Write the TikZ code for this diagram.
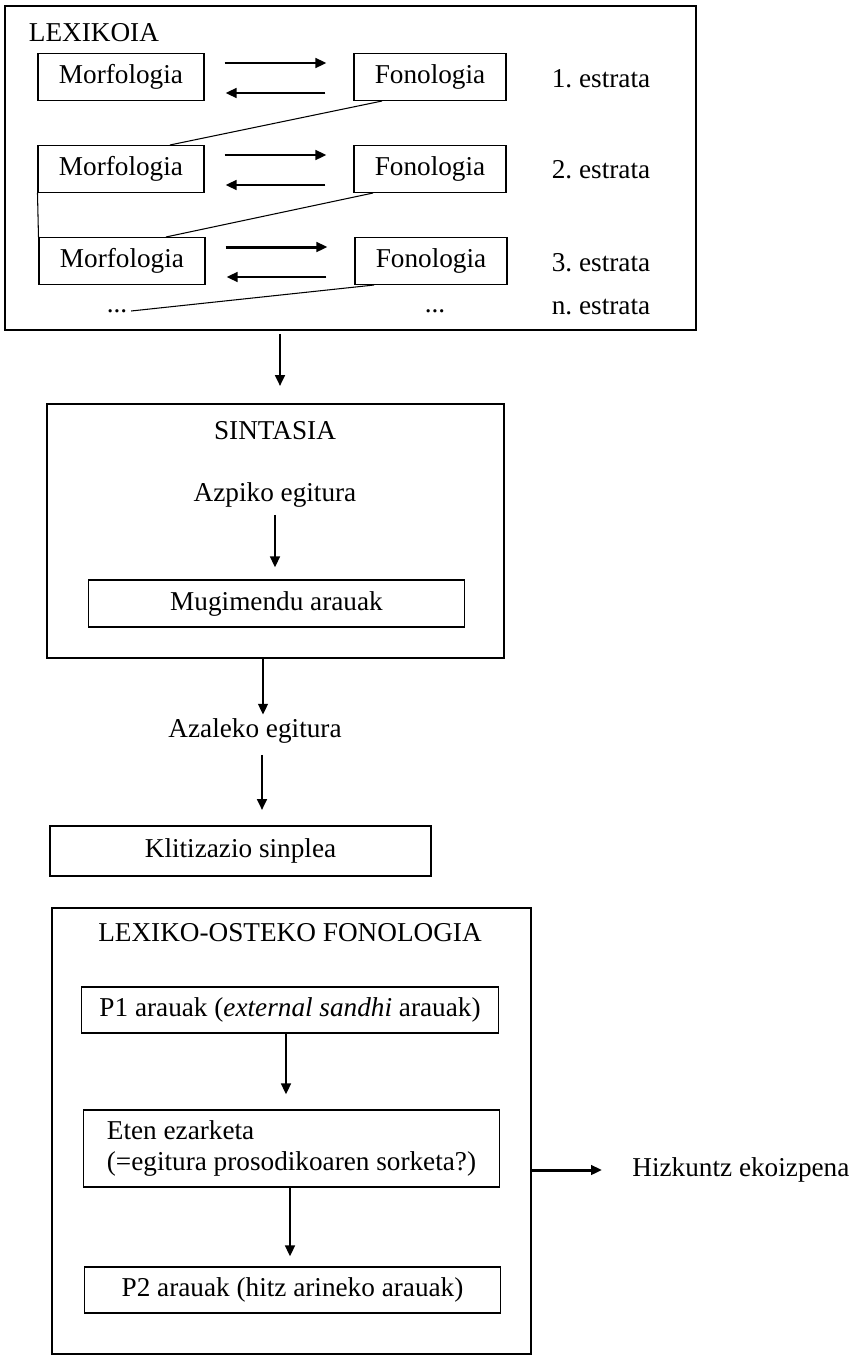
\documentclass[tikz,border=0pt]{standalone}
\usepackage{fontspec}
\setmainfont{Liberation Serif}
\usetikzlibrary{arrows.meta,positioning,fit,calc}
\frenchspacing
\newcommand{\diagsize}{\fontsize{15.5}{17.6}\selectfont}
\tikzset{
  block/.style={draw,line width=1pt,inner sep=0pt},
  box/.style={draw,line width=0.6pt,inner sep=2pt,minimum height=0.94cm,align=center,font=\diagsize,text height=0.95em,text depth=0.2em},
  note/.style={inner sep=2pt,font=\diagsize},
  flow/.style={-{Triangle[length=2.2mm,width=1.9mm]},line width=1.7pt},
  link/.style={line width=0.6pt}
}

\begin{document}
\begin{tikzpicture}[x=0.02cm,y=-0.02cm]
  \useasboundingbox[fill=white] (0,0) rectangle (859,1356);

  % lexikoia
  \node[block,fit={(5,6) (696,330)}] (lex) {};
  \node[note,anchor=west] (lexT) at (25,33) {LEXIKOIA};
  \node[box,minimum width=3.32cm] (m1) at (121,77) {Morfologia};
  \node[box,minimum width=3.04cm] (f1) at (430,77) {Fonologia};
  \node[box,minimum width=3.32cm] (m2) at (121,169) {Morfologia};
  \node[box,minimum width=3.04cm] (f2) at (430,169) {Fonologia};
  \node[box,minimum width=3.32cm] (m3) at (122,261) {Morfologia};
  \node[box,minimum width=3.04cm] (f3) at (431,261) {Fonologia};
  \node[note] (dotsL) at (117,311) {...};
  \node[note] (dotsR) at (435,311) {...};
  \node[note,anchor=west] (s1) at (548,79) {1. estrata};
  \node[note,anchor=west] (s2) at (548,170) {2. estrata};
  \node[note,anchor=west] (s3) at (548,263) {3. estrata};
  \node[note,anchor=west] (sn) at (548,307) {n. estrata};
  \foreach \r in {1,2,3} {
    \draw[flow,shorten <=0.4cm,shorten >=0.54cm] ([yshift=0.28cm]m\r.east) -- ([yshift=0.28cm]f\r.west);
    \draw[flow,shorten <=0.56cm,shorten >=0.42cm] ([yshift=-0.32cm]f\r.west) -- ([yshift=-0.32cm]m\r.east);
  }
  \draw[link] ([xshift=-0.96cm]f1.south) -- ([xshift=0.98cm]m2.north);
  \draw[link] ([xshift=-1.14cm]f2.south) -- ([xshift=0.88cm]m3.north);
  \draw[link] ([xshift=-1.14cm]f3.south) -- (dotsL.east);
  \draw[link] (m2.south west) -- (m3.north west);

  % sintasia
  \node[block,fit={(47,404) (504,658)}] (sint) {};
  \node[note] (sintT) at (275,431) {SINTASIA};
  \node[note] (azp) at (275,495) {Azpiko egitura};
  \node[box,minimum width=7.54cm] (mug) at (276.5,603.5) {Mugimendu arauak};
  \draw[flow,shorten <=0.06cm,shorten >=0.34cm] ([xshift=0.09cm]sint.north |- lex.south) -- ([xshift=0.09cm]sint.north);
  \draw[flow,shorten <=0.07cm,shorten >=0.24cm] (azp.south) -- (azp.south |- mug.north);

  \node[note] (azal) at (255,731) {Azaleko egitura};
  \node[block,minimum width=7.62cm,minimum height=1cm,font=\diagsize,text height=0.95em,text depth=0.2em] (klit) at (240.5,851) {Klitizazio sinplea};
  \draw[flow] ([xshift=0.16cm]azal.north |- sint.south) -- ([xshift=0.16cm]azal.north);
  \draw[flow,shorten <=0.15cm,shorten >=0.3cm] ([xshift=0.14cm]azal.south) -- ([xshift=0.14cm]azal.south |- klit.north);

  % lexiko-osteko fonologia
  \node[block,fit={(52,908) (531,1354)}] (post) {};
  \node[note] (postT) at (290,933) {LEXIKO-OSTEKO FONOLOGIA};
  \node[box,minimum width=8.36cm,minimum height=0.92cm] (p1) at (290,1010) {P1 arauak (\textit{external sandhi} arauak)};
  \node[box,minimum width=8.34cm,minimum height=1.54cm,align=left,text height={},text depth={}] (eten) at (291.5,1148.5) {Eten ezarketa\\(=egitura prosodikoaren sorketa?)};
  \node[box,minimum width=8.34cm,minimum height=0.92cm] (p2) at (292.5,1290) {P2 arauak (hitz arineko arauak)};
  \draw[flow,shorten >=0.3cm] ([xshift=-0.08cm]p1.south) -- ([xshift=-0.08cm]p1.south |- eten.north);
  \draw[flow,shorten >=0.2cm] ([xshift=-0.03cm]eten.south) -- ([xshift=-0.03cm]eten.south |- p2.north);
  \node[note,anchor=west] (hiz) at (628.5,1170) {Hizkuntz ekoizpena};
  \draw[flow,shorten >=0.53cm] (post.east |- hiz) -- (hiz.west);
\end{tikzpicture}
\end{document}
